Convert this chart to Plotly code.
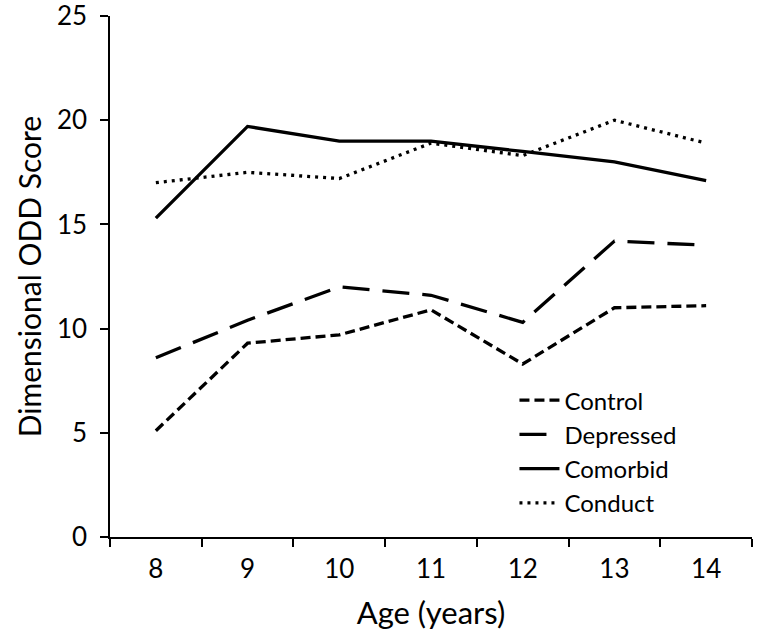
import plotly.graph_objects as go

ages = ["8", "9", "10", "11", "12", "13", "14"]
control = [5.1, 9.3, 9.7, 10.9, 8.3, 11.0, 11.1]
depressed = [8.6, 10.4, 12.0, 11.6, 10.3, 14.2, 14.0]
comorbid = [15.3, 19.7, 19.0, 19.0, 18.5, 18.0, 17.1]
conduct = [17.0, 17.5, 17.2, 18.9, 18.3, 20.0, 18.9]

series = [
    ("Control", control, "10px,5px"),
    ("Depressed", depressed, "27px,13px"),
    ("Comorbid", comorbid, "solid"),
    ("Conduct", conduct, "3px,5px"),
]

fig = go.Figure()
for name, vals, dash in series:
    fig.add_trace(go.Scatter(x=ages, y=vals, mode="lines", name=name,
                             line=dict(color="black", width=3.3, dash=dash)))

font = "Lato, Open Sans, sans-serif"
fig.update_layout(
    width=761, height=641,
    margin=dict(l=110, r=9, t=16, b=104, autoexpand=False),
    plot_bgcolor="white", paper_bgcolor="white",
    font=dict(family=font, color="black", size=25),
    showlegend=True,
    legend=dict(x=0.63, y=0.305, xanchor="left", yanchor="top",
                bgcolor="rgba(0,0,0,0)", font=dict(size=24), tracegroupgap=0,
                itemwidth=40),
    xaxis=dict(type="category", range=[-0.5, 6.5], tickson="boundaries",
               ticks="outside", ticklen=8, automargin=False, ticklabelstandoff=8,
               tickwidth=1.5, tickcolor="black", showline=True, linecolor="black",
               linewidth=1.5, showgrid=False, zeroline=False,
               title=dict(text="Age (years)", font=dict(size=31), standoff=19),
               tickfont=dict(size=26)),
    yaxis=dict(range=[0, 25], dtick=5, ticks="outside", ticklen=8, tickwidth=1.5,
               automargin=False, ticklabelstandoff=8, ticklabeloverflow="allow",
               tickcolor="black", showline=True, linecolor="black", linewidth=1.5,
               showgrid=False, zeroline=False,
               title=dict(text="Dimensional ODD Score", font=dict(size=30), standoff=6),
               tickfont=dict(size=26)),
)
fig.write_html("out.html", config={"displayModeBar": False},
               post_script="document.body.style.margin='0';")
